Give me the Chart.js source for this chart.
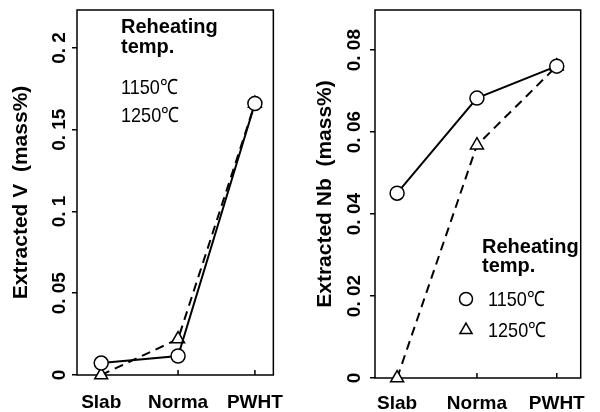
<!DOCTYPE html>
<html>
<head>
<meta charset="utf-8">
<script src="https://cdn.jsdelivr.net/npm/chart.js@4"></script>
<style>
  html, body { margin: 0; padding: 0; background: #fff; }
  .wrap { display: flex; width: 600px; height: 412px; }
  canvas { display: block; }
</style>
</head>
<body>
<div class="wrap">
  <canvas id="chartV" width="300" height="412"></canvas>
  <canvas id="chartNb" width="300" height="412"></canvas>
</div>
<script>
const stages = ["Slab", "Norma", "PWHT"];
const stagePos = [0, 1, 2];

// extracted V (mass%)
const v1150 = [0.0073, 0.0116, 0.166];
const v1250 = [0.0, 0.022, 0.166];
// extracted Nb (mass%)
const nb1150 = [0.0451, 0.0683, 0.0761];
const nb1250 = [0.0, 0.0568, 0.0761];

const vTicks = [0, 0.05, 0.1, 0.15, 0.2];
const vTickLabels = ["0", "0. 05", "0. 1", "0. 15", "0. 2"];
const nbTicks = [0, 0.02, 0.04, 0.06, 0.08];
const nbTickLabels = ["0", "0. 02", "0. 04", "0. 06", "0. 08"];

const legendTitle = ["Reheating", "temp."];
const legendTemps = ["1150℃", "1250℃"];

const FONT = "'Liberation Sans', Arial, Helvetica, sans-serif";

function toPoints(values) {
  return values.map((v, i) => ({ x: stagePos[i], y: v }));
}

function scaledText(ctx, text, x, y, font, sx) {
  ctx.save();
  ctx.translate(x, y);
  ctx.scale(sx, 1);
  ctx.font = font;
  ctx.fillText(text, 0, 0);
  ctx.restore();
}

// frame + inward ticks under the datasets, rotated y labels + legend on top
const panelDecor = {
  id: "panelDecor",
  beforeDatasetsDraw(chart) {
    const ctx = chart.ctx;
    const area = chart.chartArea;
    const xs = chart.scales.x;
    ctx.save();
    ctx.strokeStyle = "#000";
    ctx.lineWidth = 1.5;
    ctx.strokeRect(area.left, area.top, area.right - area.left, area.bottom - area.top);
    ctx.beginPath();
    stagePos.forEach(v => {
      const px = xs.getPixelForValue(v);
      ctx.moveTo(px, area.bottom);
      ctx.lineTo(px, area.bottom - 5);
    });
    ctx.stroke();
    ctx.restore();
  },
  afterDraw(chart, args, opts) {
    const ctx = chart.ctx;
    const area = chart.chartArea;
    const ys = chart.scales.y;
    ctx.save();
    ctx.fillStyle = "#000";
    ctx.font = "bold 19px " + FONT;
    ctx.textAlign = "center";
    ctx.textBaseline = "middle";
    opts.tickLabels.forEach((t, i) => {
      const py = ys.getPixelForValue(opts.tickValues[i]);
      ctx.save();
      ctx.translate(area.left - opts.labelGap, py);
      ctx.rotate(-Math.PI / 2);
      ctx.fillText(t, 0, 0);
      ctx.restore();
    });

    // legend text
    ctx.textAlign = "left";
    ctx.textBaseline = "alphabetic";
    const lg = opts.legend;
    legendTitle.forEach((t, i) => {
      scaledText(ctx, t, lg.titleX, lg.titleY[i], "bold 20px " + FONT, 1);
    });
    legendTemps.forEach((t, i) => {
      scaledText(ctx, t, lg.tempX, lg.tempY[i], "21px " + FONT, 0.86);
    });
    if (lg.markers) {
      ctx.strokeStyle = "#000";
      ctx.lineWidth = 1.5;
      const mx = lg.markerX;
      let my = lg.tempY[0] - 7;
      ctx.beginPath();
      ctx.arc(mx, my, 6.5, 0, Math.PI * 2);
      ctx.stroke();
      my = lg.tempY[1] - 7;
      const r = 7;
      ctx.beginPath();
      ctx.moveTo(mx, my - r);
      ctx.lineTo(mx + r * 0.866, my + r * 0.5);
      ctx.lineTo(mx - r * 0.866, my + r * 0.5);
      ctx.closePath();
      ctx.stroke();
    }
    ctx.restore();
  }
};

function buildChart(id, s1150, s1250, cfg) {
  return new Chart(document.getElementById(id), {
    type: "line",
    data: {
      datasets: [
        {
          label: legendTemps[0],
          data: toPoints(s1150),
          borderColor: "#000",
          borderWidth: 2,
          pointStyle: "circle",
          pointRadius: 7,
          pointBackgroundColor: "#fff",
          pointBorderColor: "#000",
          pointBorderWidth: 1.5,
          clip: false
        },
        {
          label: legendTemps[1],
          data: toPoints(s1250),
          borderColor: "#000",
          borderWidth: 2,
          borderDash: [9, 6],
          pointStyle: "triangle",
          pointRadius: 7.5,
          pointBackgroundColor: "#fff",
          pointBorderColor: "#000",
          pointBorderWidth: 1.5,
          clip: false
        }
      ]
    },
    options: {
      responsive: false,
      animation: false,
      layout: { padding: { top: 10, right: cfg.padRight, bottom: 0, left: 0 } },
      plugins: {
        legend: { display: false },
        tooltip: { enabled: false },
        panelDecor: {
          tickValues: cfg.tickValues,
          tickLabels: cfg.tickLabels,
          labelGap: cfg.labelGap,
          legend: cfg.legend
        }
      },
      scales: {
        x: {
          type: "linear",
          min: cfg.xMin,
          max: cfg.xMax,
          afterBuildTicks: ax => { ax.ticks = stagePos.map(v => ({ value: v })); },
          afterFit: ax => { ax.height = cfg.xHeight; },
          grid: { display: false, drawTicks: false },
          border: { display: false },
          ticks: {
            callback: v => stages[v],
            color: "#000",
            font: { family: FONT, size: 19, weight: "bold" },
            padding: cfg.xLabelPad,
            maxRotation: 0,
            autoSkip: false
          }
        },
        y: {
          min: 0,
          max: cfg.yMax,
          afterBuildTicks: ax => { ax.ticks = cfg.tickValues.map(v => ({ value: v })); },
          afterFit: ax => { ax.width = cfg.yWidth; },
          grid: { drawOnChartArea: false, drawTicks: true, tickLength: 5, color: "#000", lineWidth: 1.5 },
          border: { display: false },
          ticks: { display: false },
          title: {
            display: true,
            text: cfg.yTitle,
            color: "#000",
            font: { family: FONT, size: 21, weight: "bold" },
            padding: { top: cfg.titlePad, bottom: 0 }
          }
        }
      }
    },
    plugins: [panelDecor]
  });
}

buildChart("chartV", v1150, v1250, {
  xMin: -0.315, xMax: 2.24, yMax: 0.2232,
  tickValues: vTicks, tickLabels: vTickLabels,
  yTitle: "Extracted V  (mass%)",
  padRight: 12, xHeight: 37, yWidth: 77, xLabelPad: 16, titlePad: 9, labelGap: 17,
  legend: { titleX: 121, titleY: [33, 53], tempX: 121, tempY: [94, 122], markers: false }
});

buildChart("chartNb", nb1150, nb1250, {
  xMin: -0.277, xMax: 2.30, yMax: 0.0898,
  tickValues: nbTicks, tickLabels: nbTickLabels,
  yTitle: "Extracted Nb  (mass%)",
  padRight: 11, xHeight: 34, yWidth: 75, xLabelPad: 14, titlePad: 13, labelGap: 20,
  legend: { titleX: 182, titleY: [253, 272], tempX: 188, tempY: [306, 337], markers: true, markerX: 166 }
});
</script>
</body>
</html>
